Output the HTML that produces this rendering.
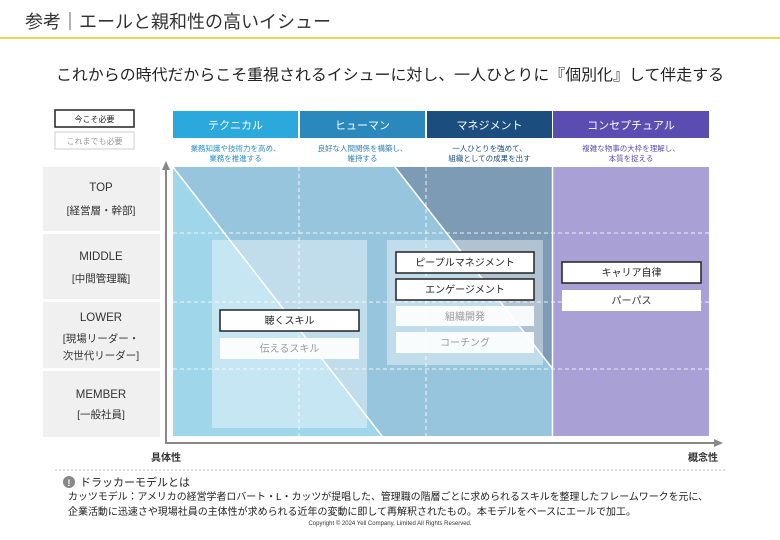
<!DOCTYPE html>
<html><head><meta charset="utf-8"><style>
html,body{margin:0;padding:0;background:#fff;}
svg{display:block;font-family:"Liberation Sans","Noto Sans CJK JP",sans-serif;}
</style></head><body>
<svg width="780" height="540" viewBox="0 0 780 540" xmlns="http://www.w3.org/2000/svg">
<text x="25" y="28" font-size="18" fill="#333">参考｜エールと親和性の高いイシュー</text>
<rect x="0" y="37" width="780" height="2" fill="#efd24e"/>
<text x="56" y="80" font-size="15.5" fill="#222" textLength="668" lengthAdjust="spacingAndGlyphs">これからの時代だからこそ重視されるイシューに対し、一人ひとりに『個別化』して伴走する</text>

<rect x="55" y="110" width="79" height="17" fill="#fff" stroke="#222" stroke-width="1.5"/>
<text x="94.5" y="122" font-size="8" fill="#222" text-anchor="middle">今こそ必要</text>
<rect x="55" y="132" width="79" height="17" fill="#fff" stroke="#ccc" stroke-width="1"/>
<text x="94.5" y="144" font-size="8" fill="#999" text-anchor="middle">これまでも必要</text>

<rect x="173" y="111" width="125" height="27" fill="#2ba9dd"/>
<rect x="300" y="111" width="125" height="27" fill="#2a88bc"/>
<rect x="427" y="111" width="125" height="27" fill="#1b4e7f"/>
<rect x="553" y="111" width="156" height="27" fill="#5a4cb1"/>
<g font-size="11" fill="#fff" text-anchor="middle">
<text x="235.5" y="129">テクニカル</text>
<text x="362.5" y="129">ヒューマン</text>
<text x="489.5" y="129">マネジメント</text>
<text x="631" y="129">コンセプチュアル</text>
</g>
<g font-size="7.5" text-anchor="middle">
<text x="235.5" y="151" fill="#2a8fc7">業務知識や技術力を高め、</text>
<text x="235.5" y="161" fill="#2a8fc7">業務を推進する</text>
<text x="362.5" y="151" fill="#2a7fb3">良好な人間関係を構築し、</text>
<text x="362.5" y="161" fill="#2a7fb3">維持する</text>
<text x="489.5" y="151" fill="#1b4e7f">一人ひとりを強めて、</text>
<text x="489.5" y="161" fill="#1b4e7f">組織としての成果を出す</text>
<text x="631" y="151" fill="#5a4cb1">複雑な物事の大枠を理解し、</text>
<text x="631" y="161" fill="#5a4cb1">本質を捉える</text>
</g>

<g fill="#f0f0f0">
<rect x="43" y="167" width="117" height="64"/>
<rect x="43" y="234" width="117" height="65"/>
<rect x="43" y="302" width="117" height="66"/>
<rect x="43" y="371" width="117" height="66"/>
</g>
<g font-size="11.5" fill="#333" text-anchor="middle">
<text x="101" y="191">TOP</text><text x="101" y="214" font-size="10.5">[経営層・幹部]</text>
<text x="101" y="260">MIDDLE</text><text x="101" y="282" font-size="10.5">[中間管理職]</text>
<text x="101" y="321">LOWER</text><text x="101" y="342" font-size="10.5">[現場リーダー・</text><text x="101" y="359" font-size="10.5">次世代リーダー]</text>
<text x="101" y="398">MEMBER</text><text x="101" y="418" font-size="10.5">[一般社員]</text>
</g>

<rect x="173" y="167" width="379" height="269" fill="#98c5de"/>
<polygon points="173,167 382,436 173,436" fill="#9fd6ea"/>
<polygon points="395,167 552,167 552,368" fill="#7e9bb6"/>
<line x1="173" y1="167" x2="382" y2="436" stroke="#fff" stroke-width="1.5"/>
<line x1="395" y1="167" x2="552" y2="368" stroke="#fff" stroke-width="1.5"/>
<rect x="553" y="167" width="156" height="269" fill="#a9a0d6"/>
<rect x="212" y="240" width="155" height="188" fill="#fff" fill-opacity="0.4"/>
<rect x="387" y="240" width="156" height="125" fill="#fff" fill-opacity="0.4"/>
<g stroke="#fff" stroke-width="1" stroke-dasharray="4,3" opacity="0.85">
<line x1="173" y1="233" x2="709" y2="233"/>
<line x1="173" y1="302" x2="709" y2="302"/>
<line x1="173" y1="369" x2="709" y2="369"/>
<line x1="299" y1="167" x2="299" y2="436"/>
<line x1="426" y1="167" x2="426" y2="436"/>
</g>
<line x1="552.5" y1="167" x2="552.5" y2="436" stroke="#fff" stroke-width="1.5"/>

<g font-size="10" text-anchor="middle">
<rect x="220" y="310" width="139" height="21" fill="#fff" stroke="#222" stroke-width="1.5"/>
<text x="289.5" y="324" fill="#222">聴くスキル</text>
<rect x="220" y="338" width="139" height="21" fill="#fff" fill-opacity="0.9"/>
<text x="289.5" y="352" fill="#999">伝えるスキル</text>
<rect x="396" y="252" width="138" height="21" fill="#fff" stroke="#222" stroke-width="1.5"/>
<text x="465" y="266" fill="#222">ピープルマネジメント</text>
<rect x="396" y="279" width="138" height="21" fill="#fff" stroke="#222" stroke-width="1.5"/>
<text x="465" y="293" fill="#222">エンゲージメント</text>
<rect x="396" y="306" width="138" height="20" fill="#fff" fill-opacity="0.9"/>
<text x="465" y="320" fill="#999">組織開発</text>
<rect x="396" y="332" width="138" height="21" fill="#fff" fill-opacity="0.9"/>
<text x="465" y="346" fill="#999">コーチング</text>
<rect x="562" y="262" width="139" height="21" fill="#fff" stroke="#222" stroke-width="1.5"/>
<text x="631.5" y="276" fill="#222">キャリア自律</text>
<rect x="562" y="290" width="139" height="21" fill="#fff"/>
<text x="631.5" y="304" fill="#333">パーパス</text>
</g>

<line x1="166" y1="443" x2="166" y2="168" stroke="#888" stroke-width="2"/>
<polygon points="162,170 170,170 166,161" fill="#888"/>
<line x1="165" y1="443" x2="716" y2="443" stroke="#888" stroke-width="2"/>
<polygon points="714,439 714,447 723,443" fill="#888"/>
<text x="166" y="461" font-size="10" fill="#333" text-anchor="middle" font-weight="bold">具体性</text>
<text x="703" y="461" font-size="10" fill="#333" text-anchor="middle" font-weight="bold">概念性</text>

<line x1="55" y1="470" x2="725" y2="470" stroke="#bbb" stroke-width="1" stroke-dasharray="2,2"/>
<circle cx="69" cy="482" r="6" fill="#888"/>
<text x="69" y="486" font-size="9" fill="#fff" text-anchor="middle" font-weight="bold">!</text>
<text x="80" y="486" font-size="11" fill="#222">ドラッカーモデルとは</text>
<text x="68" y="500" font-size="10" fill="#222" textLength="640" lengthAdjust="spacingAndGlyphs">カッツモデル：アメリカの経営学者ロバート・L・カッツが提唱した、管理職の階層ごとに求められるスキルを整理したフレームワークを元に、</text>
<text x="68" y="515" font-size="10" fill="#222" textLength="568" lengthAdjust="spacingAndGlyphs">企業活動に迅速さや現場社員の主体性が求められる近年の変動に即して再解釈されたもの。本モデルをベースにエールで加工。</text>
<text x="390" y="525" font-size="6" fill="#333" text-anchor="middle">Copyright © 2024 Yell Company, Limited All Rights Reserved.</text>
</svg>
</body></html>
